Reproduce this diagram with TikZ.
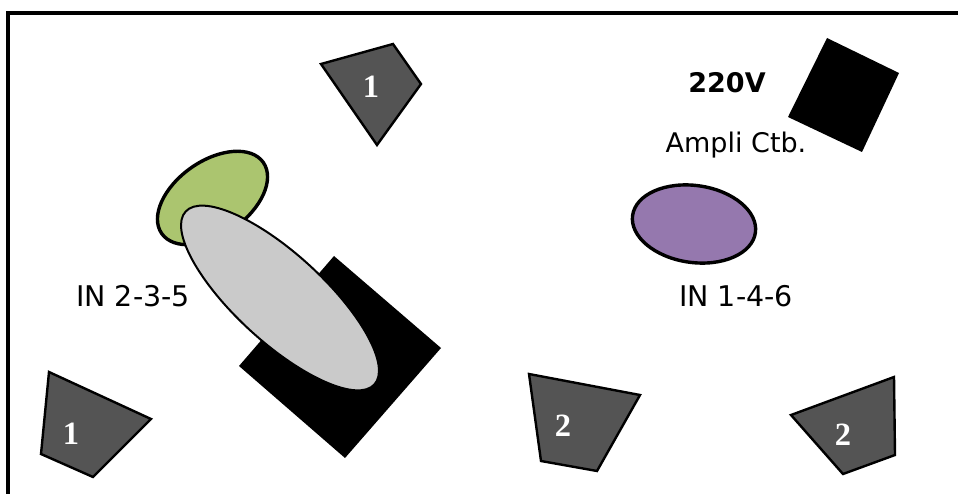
\documentclass[tikz,border=0pt]{standalone}
\usepackage{fontspec}
\setmainfont{DejaVu Sans}
\newfontfamily\numfont{Liberation Serif}
\definecolor{speaker}{HTML}{545454}
\definecolor{greenin}{HTML}{ABC56F}
\definecolor{purplein}{HTML}{9578AE}
\definecolor{greyin}{HTML}{CACACA}
\tikzset{
  frameline/.style={draw=black,line width=4pt},
  speakerbox/.style={draw=black,fill=speaker,line width=2.4pt,line join=miter},
  ampbox/.style={fill=black},
  inA/.style={draw=black,line width=3.4pt},
  inB/.style={draw=black,line width=2pt,fill=greyin},
  numlabel/.style={text=white,font=\numfont\bfseries\fontsize{32.5}{33}\selectfont,inner sep=0pt},
  caption/.style={text=black,font=\fontsize{27}{30}\selectfont,inner sep=0pt},
  inlabel/.style={text=black,font=\fontsize{28.5}{30}\selectfont,inner sep=0pt},
}
\begin{document}
\begin{tikzpicture}[x=1pt,y=-1pt]
\useasboundingbox (0,0) rectangle (958,494);
\clip (0,0) rectangle (958,494);
\fill[white] (0,0) rectangle (958,494);
\draw[frameline] (8,13) rectangle (975,510);
% speakers
\draw[speakerbox] (321,64) -- (393,44) -- (421,84) -- (377,145) -- cycle;
\draw[speakerbox] (49,372) -- (151,419) -- (93,477) -- (41,454) -- cycle;
\draw[speakerbox] (529,374) -- (640,395) -- (597,471) -- (541,461) -- cycle;
\draw[speakerbox] (791,415) -- (894,377) -- (895,455) -- (843,474) -- cycle;
% amplifier blocks
\fill[ampbox] (334,256) -- (441,348) -- (345,458) -- (239,366) -- cycle;
\fill[ampbox] (827,38) -- (899,73) -- (862,152) -- (788,117) -- cycle;
% inputs
\draw[inA,fill=greenin,rotate around={35:(212.5,198)}] (212.5,198) ellipse [x radius=62,y radius=37];
\draw[inB,rotate around={-42.5:(280,298)}] (280,298) ellipse [x radius=128,y radius=44];
\draw[inA,fill=purplein,rotate around={-8:(694,224)}] (694,224) ellipse [x radius=62,y radius=38.5];
% labels
\node[numlabel] (n1) at (371,87) {1};
\node[numlabel] (n2) at (71,434) {1};
\node[numlabel] (n3) at (563,426) {2};
\node[numlabel] (n4) at (843,435) {2};
\node[caption,font=\bfseries\fontsize{27}{30}\selectfont] (volt) at (727,83) {220V};
\node[caption] (amp) at (736,145) {Ampli Ctb.};
\node[inlabel] (ina) at (133,296) {IN 2-3-5};
\node[inlabel] (inb) at (736,296) {IN 1-4-6};
\end{tikzpicture}
\end{document}
